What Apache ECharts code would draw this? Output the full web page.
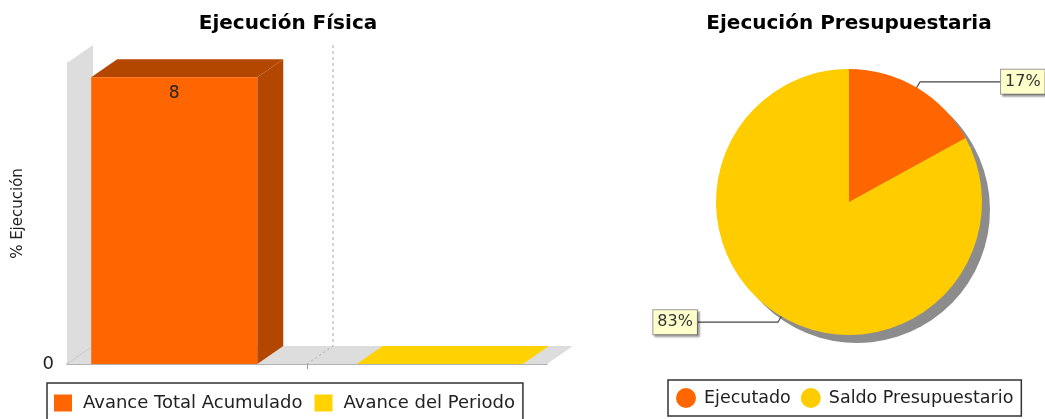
<!DOCTYPE html>
<html lang="es">
<head>
<meta charset="UTF-8">
<title>Ejecución Física / Presupuestaria</title>
<script src="https://cdn.jsdelivr.net/npm/echarts@6/dist/echarts.min.js"></script>
<style>
  html, body { margin: 0; padding: 0; background: #fff; }
  #chart { width: 1045px; height: 419px; }
</style>
</head>
<body>
<div id="chart"></div>
<script>
// datos
const categories = [''];
const seriesNames = ['Avance Total Acumulado', 'Avance del Periodo'];
const totalAcumulado = [8];
const avancePeriodo = [0];
const budgetNames = ['Ejecutado', 'Saldo Presupuestario'];
const budgetValues = [17, 83];

const FONT = 'DejaVu Sans';
const DX = 26, DY = -18;          // profundidad 3D
const pieCenter = [849, 202];
const pieR = 133;

// barra 3D: cara frontal, superior y lateral
function bar3d(seriesIdx, front, dark) {
  return function (params, api) {
    const v = api.value(1);
    const base = api.coord([api.value(0), 0]);
    const top = api.coord([api.value(0), v])[1];
    const band = api.size([1, 0])[0];
    const bc = base[0] + (seriesIdx === 0 ? -1 : 1) * 0.2766 * band;
    const hw = 0.173 * band;
    const l = bc - hw, r = bc + hw, b = base[1];
    const children = [
      { type: 'polygon', shape: { points: [[r, top], [r + DX, top + DY], [r + DX, b + DY], [r, b]] },
        style: { fill: dark } },
      { type: 'polygon', shape: { points: [[l, top], [l + DX, top + DY], [r + DX, top + DY], [r, top]] },
        style: { fill: v === 0 ? front : dark } },
      { type: 'rect', shape: { x: l, y: top, width: r - l, height: b - top }, style: { fill: front } }
    ];
    if (v !== 0) {
      children.push({ type: 'text', style: { text: String(v), x: bc, y: top + 16, fill: '#222',
        font: '17px ' + FONT, align: 'center', verticalAlign: 'middle' } });
    }
    return { type: 'group', children: children };
  };
}

// paredes y suelo del gráfico 3D
function walls(params, api) {
  const cs = params.coordSys;
  const x0 = cs.x, x1 = cs.x + cs.width, y0 = cs.y, y1 = cs.y + cs.height;
  const cx = api.coord([0, 0])[0];
  const grey = '#DDDDDD';
  return { type: 'group', children: [
    { type: 'polygon', shape: { points: [[x0, y1], [x0, y0], [x0 + DX, y0 + DY], [x0 + DX, y1 + DY]] },
      style: { fill: grey } },
    { type: 'polygon', shape: { points: [[x0, y1], [x0 + DX, y1 + DY], [x1 + DX, y1 + DY], [x1, y1]] },
      style: { fill: grey } },
    { type: 'line', shape: { x1: x0, y1: y1, x2: x0 + DX, y2: y1 + DY }, style: { stroke: '#C8C8C8', lineWidth: 1 } },
    { type: 'line', shape: { x1: cx + DX, y1: y0 + DY, x2: cx + DX, y2: y1 + DY },
      style: { stroke: '#AAAAAA', lineWidth: 1, lineDash: [3, 3] } },
    { type: 'line', shape: { x1: cx, y1: y1, x2: cx + DX, y2: y1 + DY },
      style: { stroke: '#AAAAAA', lineWidth: 1, lineDash: [2, 3] } }
  ] };
}

function pieLabelLayout(params) {
  const total = budgetValues.reduce((a, b) => a + b, 0);
  let cum = 0;
  for (let i = 0; i < params.dataIndex; i++) cum += budgetValues[i];
  const mid = (90 - (cum + budgetValues[params.dataIndex] / 2) / total * 360) * Math.PI / 180;
  const c = Math.cos(mid), s = Math.sin(mid);
  const p0 = [pieCenter[0] + pieR * 0.88 * c, pieCenter[1] - pieR * 0.88 * s];
  const p1 = [pieCenter[0] + pieR * 1.05 * c, pieCenter[1] - pieR * 1.05 * s];
  const side = c >= 0 ? 1 : -1;
  const p2 = [p1[0] + side * 81, p1[1]];
  return { x: p2[0], y: p2[1], align: side > 0 ? 'left' : 'right', verticalAlign: 'middle',
    labelLinePoints: [p0, p1, p2] };
}

const chart = echarts.init(document.getElementById('chart'));
chart.setOption({
  animation: false,
  textStyle: { fontFamily: FONT },
  title: [
    { text: 'Ejecución Física', left: 283, top: 9, textAlign: 'center',
      textStyle: { fontFamily: FONT, fontSize: 20, fontWeight: 'bold', color: '#000' } },
    { text: 'Ejecución Presupuestaria', left: 844, top: 9, textAlign: 'center',
      textStyle: { fontFamily: FONT, fontSize: 20, fontWeight: 'bold', color: '#000' } }
  ],
  legend: [
    { data: seriesNames, left: 47, top: 383, orient: 'horizontal',
      icon: 'rect', itemWidth: 18, itemHeight: 17, itemGap: 12,
      padding: [11, 8, 11, 7], borderColor: '#333', borderWidth: 1.5,
      textStyle: { fontFamily: FONT, fontSize: 18, color: '#222', padding: [0, 0, 0, 6] } },
    { data: budgetNames, left: 668, top: 380, orient: 'horizontal',
      icon: 'circle', itemWidth: 20, itemHeight: 20, itemGap: 10,
      padding: [8, 8, 8, 8], borderColor: '#333', borderWidth: 1.5,
      textStyle: { fontFamily: FONT, fontSize: 17.5, color: '#222', padding: [0, 0, 0, 3] } }
  ],
  grid: { left: 67, right: 498, top: 63, bottom: 55 },
  xAxis: {
    type: 'category', data: categories,
    axisLine: { lineStyle: { color: '#999', width: 1.5 } },
    axisTick: { show: true, alignWithLabel: true, length: 5, lineStyle: { color: '#999' } },
    axisLabel: { show: false }, splitLine: { show: false }
  },
  yAxis: {
    type: 'value', min: 0, max: 8.4, interval: 8.4,
    name: '% Ejecución', nameLocation: 'middle', nameRotate: 90, nameGap: 41,
    nameTextStyle: { fontFamily: FONT, fontSize: 15, color: '#222' },
    axisLine: { show: true, lineStyle: { color: '#AAA', width: 1 } },
    axisTick: { show: false },
    axisLabel: { showMaxLabel: false, fontFamily: FONT, fontSize: 18, color: '#222', margin: 13 },
    splitLine: { show: false }
  },
  series: [
    { type: 'custom', name: 'walls', z: 1, silent: true, clip: false,
      renderItem: walls, data: [[0, 0]], encode: { x: 0, y: 1 } },
    { type: 'custom', name: seriesNames[0], z: 2, clip: false,
      itemStyle: { color: '#FF6600' },
      renderItem: bar3d(0, '#FF6600', '#B34700'),
      data: totalAcumulado.map((v, i) => [i, v]), encode: { x: 0, y: 1 } },
    { type: 'custom', name: seriesNames[1], z: 2, clip: false,
      itemStyle: { color: '#FFD200' },
      renderItem: bar3d(1, '#FFD200', '#C9A500'),
      data: avancePeriodo.map((v, i) => [i, v]), encode: { x: 0, y: 1 } },
    { type: 'pie', name: 'Ejecución Presupuestaria', z: 3,
      center: pieCenter, radius: pieR, startAngle: 90, clockwise: true,
      itemStyle: { borderWidth: 0 },
      color: ['#FF6600', '#FFCC00'],
      emphasis: { disabled: true },
      data: budgetNames.map((n, i) => ({ name: n, value: budgetValues[i] })),
      label: { show: true, formatter: '{d}%', fontFamily: FONT, fontSize: 16, color: '#333',
        backgroundColor: '#FFFFCC', borderColor: '#999', borderWidth: 1, padding: [4, 4],
        shadowColor: 'rgba(0,0,0,0.3)', shadowOffsetX: 2, shadowOffsetY: 2, shadowBlur: 2 },
      labelLine: { show: true, lineStyle: { color: '#444', width: 1.2 } },
      labelLayout: pieLabelLayout },
    { type: 'pie', name: 'sombra', z: 2, silent: true,
      center: [pieCenter[0] + 8, pieCenter[1] + 8], radius: pieR, startAngle: 90,
      itemStyle: { color: '#8C8C8C', borderWidth: 0 },
      label: { show: false }, labelLine: { show: false }, emphasis: { disabled: true },
      data: budgetValues.map(v => ({ value: v })) }
  ]
});
</script>
</body>
</html>
